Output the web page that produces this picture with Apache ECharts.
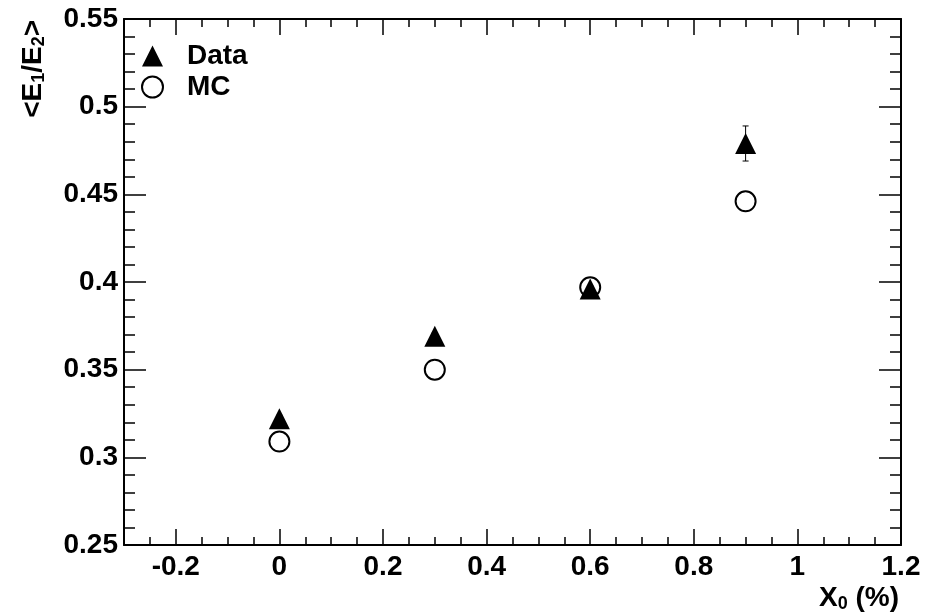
<!DOCTYPE html>
<html>
<head>
<meta charset="utf-8">
<script src="https://cdn.jsdelivr.net/npm/echarts@6/dist/echarts.min.js"></script>
<style>html,body{margin:0;padding:0;background:#fff}#c{width:925px;height:615px}</style>
</head>
<body>
<div id="c"></div>
<script>
const xValues = [0, 0.3, 0.6, 0.9];
const dataValues = [0.322, 0.369, 0.396, 0.479];
const dataErrors = [0.002, 0.002, 0.002, 0.010];
const mcValues = [0.309, 0.350, 0.397, 0.446];
const xMajorTicks = [-0.2, 0, 0.2, 0.4, 0.6, 0.8, 1, 1.2];
const xRange = [-0.3, 1.2];
const yRange = [0.25, 0.55];

const FONT = 'Liberation Sans';
const chart = echarts.init(document.getElementById('c'), null, {renderer: 'canvas'});

function xAxisDef(pos, major, showLabel) {
  const a = {
    type: 'value', position: pos, min: xRange[0], max: xRange[1],
    axisLine: {show: major, onZero: false, lineStyle: {color: '#000', width: 2}},
    splitLine: {show: false},
    axisLabel: {show: false}
  };
  if (major) {
    a.axisTick = {show: true, inside: true, length: 16, lineStyle: {color: '#000', width: 1.5}, customValues: xMajorTicks};
    a.axisLabel = {show: showLabel, customValues: xMajorTicks, color: '#000', fontFamily: FONT, fontWeight: 'bold', fontSize: 28, margin: 8,
      formatter: v => String(Math.round(v * 10) / 10)};
  } else {
    a.interval = 0.05;
    a.axisTick = {show: true, inside: true, length: 8, lineStyle: {color: '#000', width: 1.5}};
  }
  return a;
}
function yAxisDef(pos, showLabel) {
  return {
    type: 'value', position: pos, min: yRange[0], max: yRange[1], interval: 0.05,
    axisLine: {show: true, onZero: false, lineStyle: {color: '#000', width: 2}},
    splitLine: {show: false},
    axisTick: {show: true, inside: true, length: 22, lineStyle: {color: '#000', width: 1.5}},
    minorTick: {show: true, splitNumber: 5, length: 11, lineStyle: {color: '#000', width: 1.5}},
    axisLabel: {show: showLabel, color: '#000', fontFamily: FONT, fontWeight: 'bold', fontSize: 28, margin: 6,
      formatter: v => String(Math.round(v * 100) / 100)}
  };
}
const errData = xValues.map((x, i) => [x, dataValues[i] - dataErrors[i], dataValues[i] + dataErrors[i]]);

chart.setOption({
  animation: false,
  backgroundColor: '#fff',
  grid: {left: 124, right: 24, top: 19, bottom: 70, containLabel: false},
  xAxis: [xAxisDef('bottom', true, true), xAxisDef('bottom', false, false), xAxisDef('top', true, false), xAxisDef('top', false, false)],
  yAxis: [yAxisDef('left', true), yAxisDef('right', false)],
  legend: {
    orient: 'vertical', left: 141, top: 42, itemWidth: 21, itemHeight: 21, itemGap: 3, padding: 0,
    data: ['Data', 'MC'],
    textStyle: {fontFamily: FONT, fontWeight: 'bold', fontSize: 28, lineHeight: 21, color: '#000', padding: [0, 0, 0, 19]}
  },
  series: [
    {
      name: 'MC', type: 'scatter', xAxisIndex: 0, yAxisIndex: 0,
      symbol: 'emptyCircle', symbolSize: 20,
      itemStyle: {color: '#000', borderColor: '#000', borderWidth: 1.5, opacity: 1},
      data: xValues.map((x, i) => [x, mcValues[i]]), z: 2
    },
    {
      name: 'DataErr', type: 'custom', xAxisIndex: 0, yAxisIndex: 0, z: 3,
      data: errData,
      renderItem: function (params, api) {
        const x = api.value(0);
        const lo = api.coord([x, api.value(1)]);
        const hi = api.coord([x, api.value(2)]);
        const c = 3;
        return {type: 'group', children: [
          {type: 'line', shape: {x1: lo[0], y1: lo[1], x2: hi[0], y2: hi[1]}, style: {stroke: '#000', lineWidth: 1}},
          {type: 'line', shape: {x1: lo[0] - c, y1: lo[1], x2: lo[0] + c, y2: lo[1]}, style: {stroke: '#000', lineWidth: 1}},
          {type: 'line', shape: {x1: hi[0] - c, y1: hi[1], x2: hi[0] + c, y2: hi[1]}, style: {stroke: '#000', lineWidth: 1}}
        ]};
      }
    },
    {
      name: 'Data', type: 'scatter', xAxisIndex: 0, yAxisIndex: 0,
      symbol: 'triangle', symbolSize: [21, 21],
      itemStyle: {color: '#000', opacity: 1},
      data: xValues.map((x, i) => [x, dataValues[i]]), z: 4
    }
  ],
  graphic: [
    {type: 'text', x: 33, y: 20, rotation: Math.PI / 2,
      style: {text: '<E{s|1}/E{s|2}>', align: 'right', verticalAlign: 'middle', fill: '#000',
        font: 'bold 28px "Liberation Sans"',
        rich: {s: {fontSize: 18, fontFamily: FONT, fontWeight: 'bold', fill: '#000', padding: [12, 0, 0, 0]}}}},
    {type: 'text', x: 899, y: 598,
      style: {text: 'X{s|0} (%)', align: 'right', verticalAlign: 'middle', fill: '#000',
        font: 'bold 28px "Liberation Sans"',
        rich: {s: {fontSize: 18, fontFamily: FONT, fontWeight: 'bold', fill: '#000', padding: [12, 0, 0, 0]}}}}
  ]
});
</script>
</body>
</html>
